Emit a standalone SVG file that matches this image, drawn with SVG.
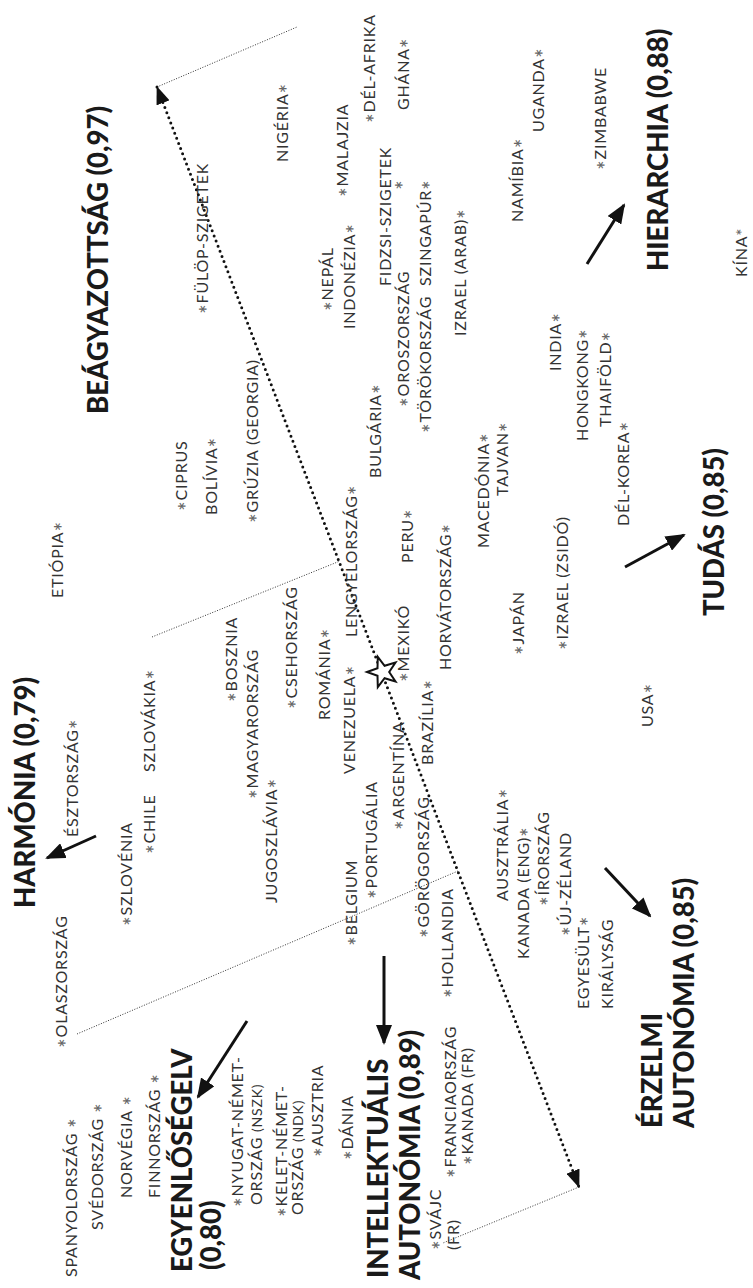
<svg xmlns="http://www.w3.org/2000/svg" width="753" height="1288" viewBox="0 0 753 1288">
<style>
.t{font-family:Lato,"Open Sans","Liberation Sans",sans-serif;font-size:16px;letter-spacing:0.8px;fill:#333}
.h{font-family:Lato,"Open Sans","Liberation Sans",sans-serif;font-size:27.5px;font-weight:900;fill:#1a1a1a}
.a{fill:#666;font-size:23px;baseline-shift:-7.5px}
.ak{fill:#666;font-size:17px;baseline-shift:-2px}
.sm{font-size:14px}
.sl{fill:none;stroke:#111;stroke-width:3}
.dl{fill:none;stroke:#111;stroke-width:3;stroke-linecap:round;stroke-dasharray:0 5.5}
.tl{fill:none;stroke:#333;stroke-width:1;stroke-dasharray:1 1.6}
.star{fill:#fff;stroke:#111;stroke-width:2;stroke-linejoin:miter}
</style>
<defs>
<marker id="ah" markerUnits="userSpaceOnUse" markerWidth="20" markerHeight="16" refX="18" refY="8" orient="auto-start-reverse" viewBox="0 0 20 16">
<path d="M0,0 L20,8 L0,16 Z" fill="#111"/>
</marker>
<marker id="ad" markerUnits="userSpaceOnUse" markerWidth="18" markerHeight="14" refX="17" refY="7" orient="auto-start-reverse" viewBox="0 0 18 14">
<path d="M0,0 L18,7 L0,14 Z" fill="#111"/>
</marker>
</defs>

<g id="connectors">
<line class="tl" x1="157" y1="87" x2="297" y2="27"/>
<line class="tl" x1="579" y1="1187" x2="443" y2="1243"/>
<line class="tl" x1="152" y1="637" x2="340" y2="561"/>
<line class="tl" x1="77" y1="1034" x2="458" y2="871"/>
<line class="dl" x1="157" y1="87" x2="579" y2="1187" marker-start="url(#ad)" marker-end="url(#ad)"/>
<line class="sl" x1="587" y1="264" x2="624" y2="205" marker-end="url(#ah)"/>
<line class="sl" x1="625" y1="567" x2="684" y2="535" marker-end="url(#ah)"/>
<line class="sl" x1="96" y1="836" x2="47" y2="858" marker-end="url(#ah)"/>
<line class="sl" x1="605" y1="868" x2="650" y2="916" marker-end="url(#ah)"/>
<line class="sl" x1="384" y1="956" x2="384" y2="1043" marker-end="url(#ah)"/>
<line class="sl" x1="247" y1="1021" x2="198" y2="1097" marker-end="url(#ah)"/>
</g>

<g id="star"><polygon class="star" points="367,672 377.5,668.2 377.8,656.8 384.6,665.8 395.5,662.6 389.2,672 395.5,681.4 384.6,678.2 377.8,687.2 377.5,675.8"/></g>

<g id="beagyazottsag"><text class="h" transform="translate(108 414) rotate(-90)">BEÁGYAZOTTSÁG (0,97)</text></g>
<g id="hierarchia"><text class="h" transform="translate(668 271) rotate(-90)">HIERARCHIA (0,88)</text></g>
<g id="tudas"><text class="h" transform="translate(724 616) rotate(-90)">TUDÁS (0,85)</text></g>
<g id="harmonia"><text class="h" transform="translate(35 908) rotate(-90)">HARMÓNIA (0,79)</text></g>
<g id="erzelmi"><text class="h" transform="translate(662 1128) rotate(-90)">ÉRZELMI</text><text class="h" transform="translate(694 1128) rotate(-90)">AUTONÓMIA (0,85)</text></g>
<g id="intellektualis"><text class="h" transform="translate(388 1278) rotate(-90)">INTELLEKTUÁLIS</text><text class="h" transform="translate(420 1280) rotate(-90)">AUTONÓMIA (0,89)</text></g>
<g id="egyenloseg"><text class="h" transform="translate(192 1272) rotate(-90)">EGYENLŐSÉGELV</text><text class="h" transform="translate(221 1270) rotate(-90)">(0,80)</text></g>

<g id="del-afrika"><text class="t" transform="translate(375 123) rotate(-90)"><tspan class="a">*</tspan>DÉL-AFRIKA</text></g>
<g id="ghana"><text class="t" transform="translate(409 110) rotate(-90)">GHÁNA<tspan class="a">*</tspan></text></g>
<g id="nigeria"><text class="t" transform="translate(288 162) rotate(-90)">NIGÉRIA<tspan class="a">*</tspan></text></g>
<g id="malajzia"><text class="t" transform="translate(348 197) rotate(-90)"><tspan class="a">*</tspan>MALAJZIA</text></g>
<g id="uganda"><text class="t" transform="translate(544 132) rotate(-90)">UGANDA<tspan class="a">*</tspan></text></g>
<g id="namibia"><text class="t" transform="translate(523 222) rotate(-90)">NAMÍBIA<tspan class="a">*</tspan></text></g>
<g id="zimbabwe"><text class="t" transform="translate(606 170) rotate(-90)"><tspan class="a">*</tspan>ZIMBABWE</text></g>
<g id="kina"><text class="t" transform="translate(747 277) rotate(-90)">KÍNA<tspan class="ak">*</tspan></text></g>
<g id="fulop"><text class="t" transform="translate(208 314) rotate(-90)"><tspan class="a">*</tspan>FÜLÖP-SZIGETEK</text></g>
<g id="nepal"><text class="t" transform="translate(333 311) rotate(-90)"><tspan class="a">*</tspan>NEPÁL</text></g>
<g id="indonezia"><text class="t" transform="translate(355 329) rotate(-90)">INDONÉZIA<tspan class="a">*</tspan></text></g>
<g id="fidzsi"><text class="t" transform="translate(391 286) rotate(-90)">FIDZSI-SZIGETEK</text><text class="t" transform="translate(404 190) rotate(-90)"><tspan class="a">*</tspan></text></g>
<g id="oroszorszag"><text class="t" transform="translate(409 407) rotate(-90)"><tspan class="a">*</tspan>OROSZORSZÁG</text></g>
<g id="torokorszag"><text class="t" transform="translate(431 433) rotate(-90)"><tspan class="a">*</tspan>TÖRÖKORSZÁG</text></g>
<g id="szingapur"><text class="t" transform="translate(431 286) rotate(-90)">SZINGAPÚR<tspan class="a">*</tspan></text></g>
<g id="izrael-arab"><text class="t" transform="translate(466 336) rotate(-90)">IZRAEL (ARAB)<tspan class="a">*</tspan></text></g>
<g id="ciprus"><text class="t" transform="translate(187 511) rotate(-90)"><tspan class="a">*</tspan>CIPRUS</text></g>
<g id="bolivia"><text class="t" transform="translate(217 515) rotate(-90)">BOLÍVIA<tspan class="a">*</tspan></text></g>
<g id="gruzia"><text class="t" transform="translate(258 523) rotate(-90)"><tspan class="a">*</tspan>GRÚZIA (GEORGIA)</text></g>
<g id="etiopia"><text class="t" transform="translate(63 598) rotate(-90)">ETIÓPIA<tspan class="a">*</tspan></text></g>
<g id="bulgaria"><text class="t" transform="translate(381 478) rotate(-90)">BULGÁRIA<tspan class="a">*</tspan></text></g>
<g id="lengyel"><text class="t" transform="translate(357 637) rotate(-90)">LENGYELORSZÁG<tspan class="a">*</tspan></text></g>
<g id="peru"><text class="t" transform="translate(413 563) rotate(-90)">PERU<tspan class="a">*</tspan></text></g>
<g id="horvat"><text class="t" transform="translate(451 670) rotate(-90)">HORVÁTORSZÁG<tspan class="a">*</tspan></text></g>
<g id="macedonia"><text class="t" transform="translate(489 548) rotate(-90)">MACEDÓNIA<tspan class="a">*</tspan></text></g>
<g id="tajvan"><text class="t" transform="translate(508 496) rotate(-90)">TAJVAN<tspan class="a">*</tspan></text></g>
<g id="japan"><text class="t" transform="translate(524 655) rotate(-90)"><tspan class="a">*</tspan>JAPÁN</text></g>
<g id="izrael-zsido"><text class="t" transform="translate(568 650) rotate(-90)"><tspan class="a">*</tspan>IZRAEL (ZSIDÓ)</text></g>
<g id="del-korea"><text class="t" transform="translate(629 526) rotate(-90)">DÉL-KOREA<tspan class="a">*</tspan></text></g>
<g id="hongkong"><text class="t" transform="translate(588 441) rotate(-90)">HONGKONG<tspan class="a">*</tspan></text></g>
<g id="thaifold"><text class="t" transform="translate(611 427) rotate(-90)">THAIFÖLD<tspan class="a">*</tspan></text></g>
<g id="india"><text class="t" transform="translate(561 371) rotate(-90)">INDIA<tspan class="a">*</tspan></text></g>
<g id="esztorszag"><text class="t" transform="translate(78 837) rotate(-90)">ÉSZTORSZÁG<tspan class="a">*</tspan></text></g>
<g id="szlovenia"><text class="t" transform="translate(132 926) rotate(-90)"><tspan class="a">*</tspan>SZLOVÉNIA</text></g>
<g id="chile"><text class="t" transform="translate(155 854) rotate(-90)"><tspan class="a">*</tspan>CHILE</text></g>
<g id="szlovakia"><text class="t" transform="translate(155 772) rotate(-90)">SZLOVÁKIA<tspan class="a">*</tspan></text></g>
<g id="bosznia"><text class="t" transform="translate(237 702) rotate(-90)"><tspan class="a">*</tspan>BOSZNIA</text></g>
<g id="magyar"><text class="t" transform="translate(258 799) rotate(-90)"><tspan class="a">*</tspan>MAGYARORSZÁG</text></g>
<g id="cseh"><text class="t" transform="translate(297 709) rotate(-90)"><tspan class="a">*</tspan>CSEHORSZÁG</text></g>
<g id="romania"><text class="t" transform="translate(330 720) rotate(-90)">ROMÁNIA<tspan class="a">*</tspan></text></g>
<g id="venezuela"><text class="t" transform="translate(355 774) rotate(-90)">VENEZUELA<tspan class="a">*</tspan></text></g>
<g id="jugoszlavia"><text class="t" transform="translate(277 903) rotate(-90)">JUGOSZLÁVIA<tspan class="a">*</tspan></text></g>
<g id="belgium"><text class="t" transform="translate(357 946) rotate(-90)"><tspan class="a">*</tspan>BELGIUM</text></g>
<g id="portugalia"><text class="t" transform="translate(377 899) rotate(-90)"><tspan class="a">*</tspan>PORTUGÁLIA</text></g>
<g id="argentina"><text class="t" transform="translate(404 830) rotate(-90)"><tspan class="a">*</tspan>ARGENTÍNA</text></g>
<g id="mexiko"><text class="t" transform="translate(409 682) rotate(-90)"><tspan class="a">*</tspan>MEXIKÓ</text></g>
<g id="gorog"><text class="t" transform="translate(429 938) rotate(-90)"><tspan class="a">*</tspan>GÖRÖGORSZÁG</text></g>
<g id="brazilia"><text class="t" transform="translate(433 765) rotate(-90)">BRAZÍLIA<tspan class="a">*</tspan></text></g>
<g id="hollandia"><text class="t" transform="translate(453 998) rotate(-90)"><tspan class="a">*</tspan>HOLLANDIA</text></g>
<g id="usa"><text class="t" transform="translate(653 727) rotate(-90)">USA<tspan class="a">*</tspan></text></g>
<g id="ausztralia"><text class="t" transform="translate(508 901) rotate(-90)">AUSZTRÁLIA<tspan class="a">*</tspan></text></g>
<g id="kanada-eng"><text class="t" transform="translate(529 959) rotate(-90)">KANADA (ENG)<tspan class="a">*</tspan></text></g>
<g id="irorszag"><text class="t" transform="translate(549 906) rotate(-90)"><tspan class="a">*</tspan>ÍRORSZÁG</text></g>
<g id="uj-zeland"><text class="t" transform="translate(571 936) rotate(-90)"><tspan class="a">*</tspan>ÚJ-ZÉLAND</text></g>
<g id="egyesult"><text class="t" transform="translate(589 1009) rotate(-90)">EGYESÜLT<tspan class="a">*</tspan></text><text class="t" transform="translate(613 1009) rotate(-90)">KIRÁLYSÁG</text></g>
<g id="spanyol"><text class="t" transform="translate(77 1277) rotate(-90)">SPANYOLORSZÁG <tspan class="a">*</tspan></text></g>
<g id="sved"><text class="t" transform="translate(103 1230) rotate(-90)">SVÉDORSZÁG <tspan class="a">*</tspan></text></g>
<g id="norvegia"><text class="t" transform="translate(132 1198) rotate(-90)">NORVÉGIA <tspan class="a">*</tspan></text></g>
<g id="finn"><text class="t" transform="translate(160 1198) rotate(-90)">FINNORSZÁG <tspan class="a">*</tspan></text></g>
<g id="nyugat"><text class="t" transform="translate(243 1207) rotate(-90)"><tspan class="a">*</tspan>NYUGAT-NÉMET-</text><text class="t" transform="translate(262 1205) rotate(-90)">ORSZÁG <tspan class="sm">(NSZK)</tspan></text></g>
<g id="kelet"><text class="t" transform="translate(287 1217) rotate(-90)"><tspan class="a">*</tspan>KELET-NÉMET-</text><text class="t" transform="translate(303 1215) rotate(-90)">ORSZÁG <tspan class="sm">(NDK)</tspan></text></g>
<g id="ausztria"><text class="t" transform="translate(323 1157) rotate(-90)"><tspan class="a">*</tspan>AUSZTRIA</text></g>
<g id="dania"><text class="t" transform="translate(353 1160) rotate(-90)"><tspan class="a">*</tspan>DÁNIA</text></g>
<g id="svajc"><text class="t" transform="translate(441 1250) rotate(-90)"><tspan class="a">*</tspan>SVÁJC</text><text class="t" transform="translate(459 1250) rotate(-90)">(FR)</text></g>
<g id="francia"><text class="t" transform="translate(456 1178) rotate(-90)"><tspan class="a">*</tspan>FRANCIAORSZÁG</text></g>
<g id="kanada-fr"><text class="t" transform="translate(473 1165) rotate(-90)"><tspan class="a">*</tspan>KANADA (FR)</text></g>
<g id="olasz"><text class="t" transform="translate(67 1048) rotate(-90)"><tspan class="a">*</tspan>OLASZORSZÁG</text></g>
</svg>
